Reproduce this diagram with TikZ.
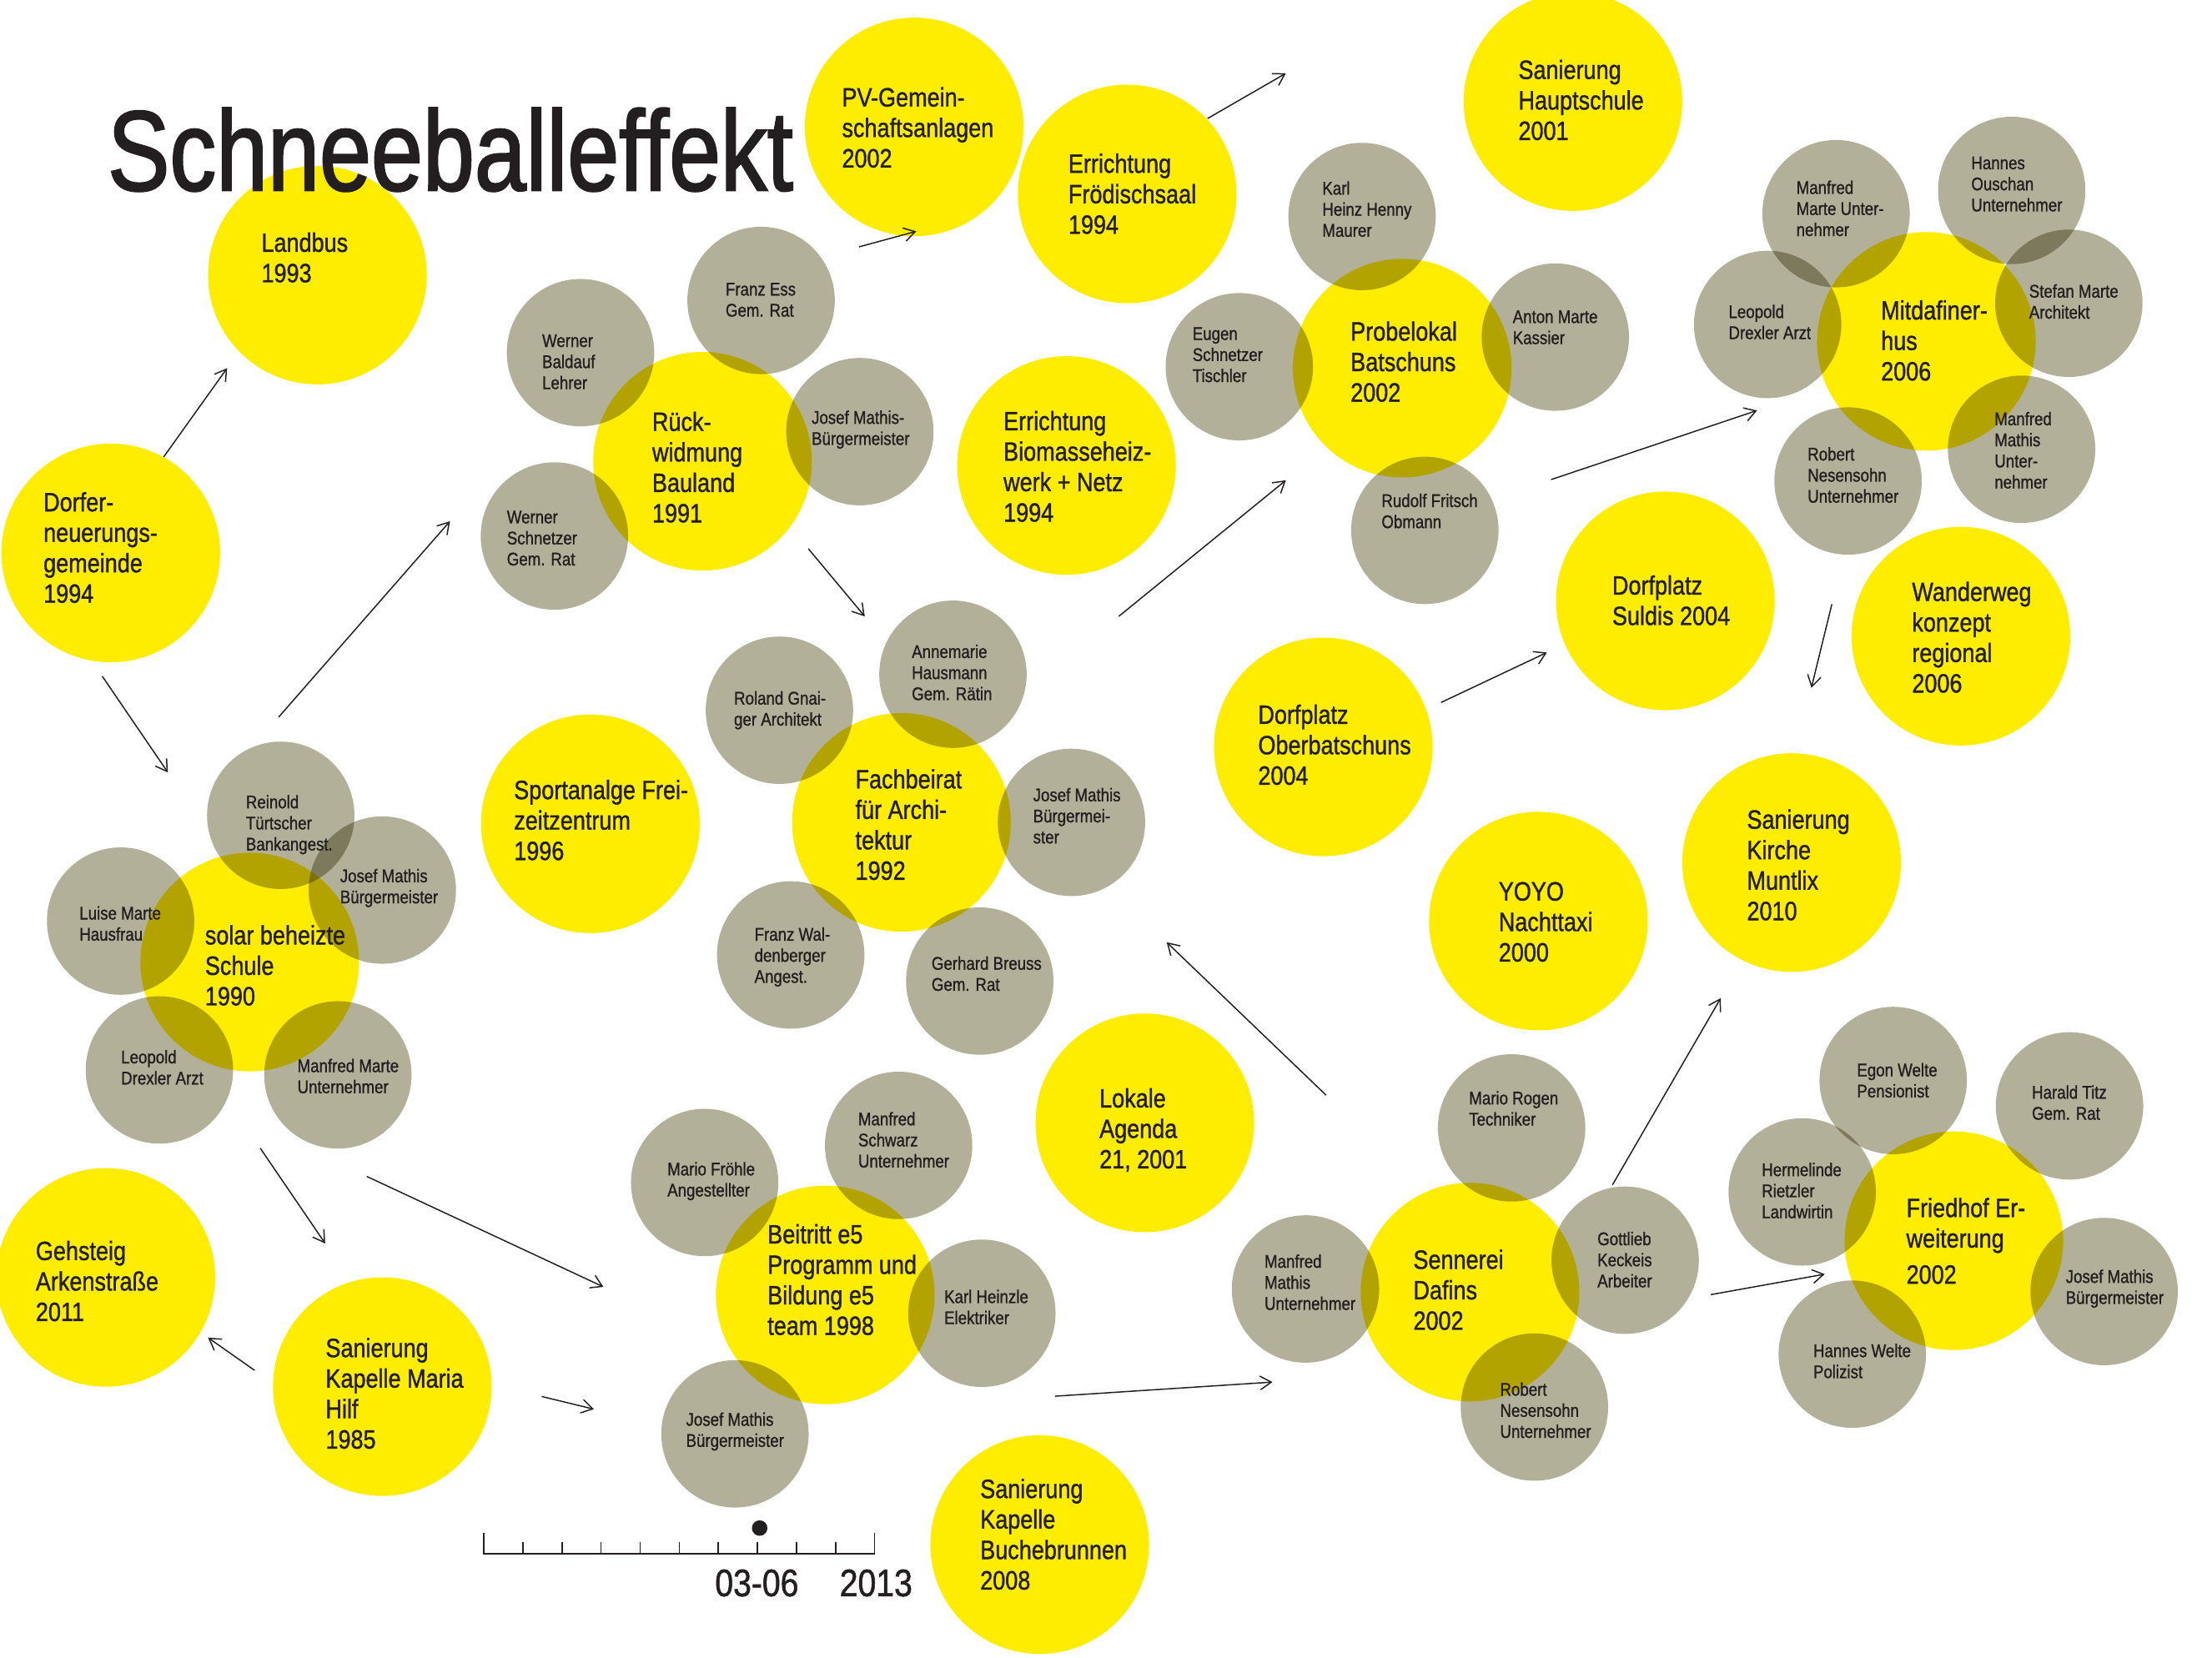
\documentclass[tikz,border=0pt]{standalone}
\usepackage{fontspec}
\setmainfont{Liberation Sans}[FakeStretch=0.85, FakeBold=1.1]
\newfontfamily\titlefont{Liberation Sans}[FakeStretch=0.815, FakeBold=1.6]
\usetikzlibrary{arrows.meta}
\definecolor{bubyellow}{HTML}{FFED00}
\definecolor{bubgray}{HTML}{B3B09A}
\definecolor{ink}{HTML}{231F20}

\begin{document}
\begin{tikzpicture}[x=0.02cm, y=-0.02cm,
    proj/.style={circle, fill=bubyellow, minimum size=3.1cm, inner sep=0pt},
    person/.style={circle, fill=bubgray, minimum size=2.09cm, inner sep=0pt},
    projtext/.style={anchor=north west, inner sep=0pt, yshift=7.66pt, align=left,
        text=ink, font=\fontsize{10.7}{12.3}\selectfont},
    persontext/.style={anchor=north west, inner sep=0pt, yshift=5.3pt, align=left,
        text=ink, font=\fontsize{7.4}{8.5}\selectfont},
    arr/.style={-{Straight Barb[length=4.5pt,width=5.5pt]}, line width=0.5pt, draw=ink}]
    \fill[white] (0,0) rectangle (1568,1175);
    \useasboundingbox (0,0) rectangle (1568,1175);

    \begin{scope}[blend mode=multiply]
        % Projekte
        \node[proj] (landbus) at (225,195) {};
        \node[proj] (dorfer) at (78.5,392) {};
        \node[proj] (pv) at (648,90) {};
        \node[proj] (froedisch) at (799,137.5) {};
        \node[proj] (hauptschule) at (1115,72) {};
        \node[proj] (rueckwidmung) at (498,327) {};
        \node[proj] (biomasse) at (756,330) {};
        \node[proj] (probelokal) at (994,261) {};
        \node[proj] (mitdafiner) at (1365.5,242) {};
        \node[proj] (suldis) at (1180.5,426) {};
        \node[proj] (wanderweg) at (1390,451) {};
        \node[proj] (oberbatschuns) at (938,529.5) {};
        \node[proj] (yoyo) at (1090.5,653) {};
        \node[proj] (muntlix) at (1270,611.5) {};
        \node[proj] (schule) at (177,682) {};
        \node[proj] (sportanlage) at (418.5,584) {};
        \node[proj] (fachbeirat) at (639,583) {};
        \node[proj] (agenda) at (811.5,796) {};
        \node[proj] (gehsteig) at (75,905.6) {};
        \node[proj] (mariahilf) at (271,983) {};
        \node[proj] (beitritt) at (585,918) {};
        \node[proj] (buchebrunnen) at (737,1095) {};
        \node[proj] (sennerei) at (1042,916) {};
        \node[proj] (friedhof) at (1385,879.6) {};
        % Personen
        \node[person] (baldauf) at (411.5,250) {};
        \node[person] (wschnetzer) at (393,380) {};
        \node[person] (franzess) at (539.5,213) {};
        \node[person] (mathisR) at (609.5,306) {};
        \node[person] (karlheinz) at (965.5,153.5) {};
        \node[person] (eugen) at (878.5,260) {};
        \node[person] (anton) at (1102.5,239) {};
        \node[person] (rudolf) at (1010,376) {};
        \node[person] (marteM) at (1301.5,151.5) {};
        \node[person] (ouschan) at (1426,135) {};
        \node[person] (drexlerM) at (1253,230) {};
        \node[person] (stefan) at (1466.5,215) {};
        \node[person] (nesensohnM) at (1310,341) {};
        \node[person] (mathisM) at (1433,318.5) {};
        \node[person] (reinold) at (199,578) {};
        \node[person] (mathisS) at (271,631) {};
        \node[person] (luise) at (85.5,653) {};
        \node[person] (drexlerS) at (113,758.5) {};
        \node[person] (marteS) at (239.5,762) {};
        \node[person] (roland) at (552.5,503.5) {};
        \node[person] (annemarie) at (675.5,478) {};
        \node[person] (mathisF) at (759.5,583) {};
        \node[person] (franzw) at (560.5,677) {};
        \node[person] (gerhard) at (694.5,695.5) {};
        \node[person] (froehle) at (499.5,838.3) {};
        \node[person] (schwarz) at (637,812) {};
        \node[person] (heinzle) at (696,931) {};
        \node[person] (mathisB) at (521,1016.5) {};
        \node[person] (rogen) at (1071.5,799.6) {};
        \node[person] (mathisD) at (925.4,913.8) {};
        \node[person] (gottlieb) at (1152,893.4) {};
        \node[person] (nesensohnD) at (1087.7,997.5) {};
        \node[person] (egon) at (1342,766) {};
        \node[person] (harald) at (1467,784) {};
        \node[person] (hermelinde) at (1277.5,845) {};
        \node[person] (mathisH) at (1491.5,915.6) {};
        \node[person] (hanneswelte) at (1313,960) {};
    \end{scope}

    % Titel
    \node[anchor=base west, inner sep=0pt, text=ink, font=\titlefont\fontsize{46}{50}\selectfont]
        (title) at (76,135) {Schneeballeffekt};

    % Texte Projekte
    \node[projtext] (landbus-t) at (185,178) {Landbus\\1993};
    \node[projtext] (dorfer-t) at (30.5,362) {Dorfer-\\neuerungs-\\gemeinde\\1994};
    \node[projtext] (pv-t) at (596.5,75) {PV-Gemein-\\schaftsanlagen\\2002};
    \node[projtext] (froedisch-t) at (757,122) {Errichtung\\Frödischsaal\\1994};
    \node[projtext] (hauptschule-t) at (1076,55.5) {Sanierung\\Hauptschule\\2001};
    \node[projtext] (rueckwidmung-t) at (462,305) {Rück-\\widmung\\Bauland\\1991};
    \node[projtext] (biomasse-t) at (711,304.5) {Errichtung\\Biomasseheiz-\\werk + Netz\\1994};
    \node[projtext] (probelokal-t) at (957,241) {Probelokal\\Batschuns\\2002};
    \node[projtext] (mitdafiner-t) at (1333,226) {Mitdafiner-\\hus\\2006};
    \node[projtext] (suldis-t) at (1142.5,421) {Dorfplatz\\Suldis 2004};
    \node[projtext] (wanderweg-t) at (1355,425.6) {Wanderweg\\konzept\\regional\\2006};
    \node[projtext] (oberbatschuns-t) at (891.5,512.6) {Dorfplatz\\Oberbatschuns\\2004};
    \node[projtext] (yoyo-t) at (1062,638.4) {YOYO\\Nachttaxi\\2000};
    \node[projtext] (muntlix-t) at (1238,587) {Sanierung\\Kirche\\Muntlix\\2010};
    \node[projtext] (schule-t) at (145,669) {solar beheizte\\Schule\\1990};
    \node[projtext] (sportanlage-t) at (364,566) {Sportanalge Frei-\\zeitzentrum\\1996};
    \node[projtext] (fachbeirat-t) at (606,558.4) {Fachbeirat\\für Archi-\\tektur\\1992};
    \node[projtext] (agenda-t) at (779,784.6) {Lokale\\Agenda\\21, 2001};
    \node[projtext] (gehsteig-t) at (25,892.8) {Gehsteig\\Arkenstraße\\2011};
    \node[projtext] (mariahilf-t) at (230.5,961.6) {Sanierung\\Kapelle Maria\\Hilf\\1985};
    \node[projtext] (beitritt-t) at (543.75,881) {Beitritt e5\\Programm und\\Bildung e5\\team 1998};
    \node[projtext] (buchebrunnen-t) at (694.5,1061.5) {Sanierung\\Kapelle\\Buchebrunnen\\2008};
    \node[projtext] (sennerei-t) at (1001.5,899) {Sennerei\\Dafins\\2002};
    \node[projtext] (friedhof-t) at (1351,862.3) {Friedhof Er-\\weiterung\\[2.3pt]2002};

    % Texte Personen
    \node[persontext] (baldauf-t) at (384,246) {Werner\\Baldauf\\Lehrer};
    \node[persontext] (wschnetzer-t) at (359,371) {Werner\\Schnetzer\\Gem. Rat};
    \node[persontext] (franzess-t) at (514,209.5) {Franz Ess\\Gem. Rat};
    \node[persontext] (mathisR-t) at (575,300) {Josef Mathis-\\Bürgermeister};
    \node[persontext] (karlheinz-t) at (937,137.5) {Karl\\Heinz Henny\\Maurer};
    \node[persontext] (eugen-t) at (845,241) {Eugen\\Schnetzer\\Tischler};
    \node[persontext] (anton-t) at (1072,229) {Anton Marte\\Kassier};
    \node[persontext] (rudolf-t) at (979,359) {Rudolf Fritsch\\Obmann};
    \node[persontext] (marteM-t) at (1273,137) {Manfred\\Marte Unter-\\nehmer};
    \node[persontext] (ouschan-t) at (1397,120) {Hannes\\Ouschan\\Unternehmer};
    \node[persontext] (drexlerM-t) at (1225,225) {Leopold\\Drexler Arzt};
    \node[persontext] (stefan-t) at (1438,210.5) {Stefan Marte\\Architekt};
    \node[persontext] (nesensohnM-t) at (1281,326) {Robert\\Nesensohn\\Unternehmer};
    \node[persontext] (mathisM-t) at (1413.5,301) {Manfred\\Mathis\\Unter-\\nehmer};
    \node[persontext] (reinold-t) at (174,572.6) {Reinold\\Türtscher\\Bankangest.};
    \node[persontext] (mathisS-t) at (240.75,625) {Josef Mathis\\Bürgermeister};
    \node[persontext] (luise-t) at (56,651.4) {Luise Marte\\Hausfrau};
    \node[persontext] (drexlerS-t) at (85.5,753.4) {Leopold\\Drexler Arzt};
    \node[persontext] (marteS-t) at (210.5,759.6) {Manfred Marte\\Unternehmer};
    \node[persontext] (roland-t) at (520,499) {Roland Gnai-\\ger Architekt};
    \node[persontext] (annemarie-t) at (646,466) {Annemarie\\Hausmann\\Gem. Rätin};
    \node[persontext] (mathisF-t) at (732,567.6) {Josef Mathis\\Bürgermei-\\ster};
    \node[persontext] (franzw-t) at (534.5,666.4) {Franz Wal-\\denberger\\Angest.};
    \node[persontext] (gerhard-t) at (660,687) {Gerhard Breuss\\Gem. Rat};
    \node[persontext] (froehle-t) at (472.75,832.8) {Mario Fröhle\\Angestellter};
    \node[persontext] (schwarz-t) at (608,797.3) {Manfred\\Schwarz\\Unternehmer};
    \node[persontext] (heinzle-t) at (669,923.3) {Karl Heinzle\\Elektriker};
    \node[persontext] (mathisB-t) at (486,1010.3) {Josef Mathis\\Bürgermeister};
    \node[persontext] (rogen-t) at (1041,782.5) {Mario Rogen\\Techniker};
    \node[persontext] (mathisD-t) at (896,898.3) {Manfred\\Mathis\\Unternehmer};
    \node[persontext] (gottlieb-t) at (1132,882.3) {Gottlieb\\Keckeis\\Arbeiter};
    \node[persontext] (nesensohnD-t) at (1063,989) {Robert\\Nesensohn\\Unternehmer};
    \node[persontext] (egon-t) at (1316,762.6) {Egon Welte\\Pensionist};
    \node[persontext] (harald-t) at (1440,778.4) {Harald Titz\\Gem. Rat};
    \node[persontext] (hermelinde-t) at (1248.5,833.3) {Hermelinde\\Rietzler\\Landwirtin};
    \node[persontext] (mathisH-t) at (1464,909) {Josef Mathis\\Bürgermeister};
    \node[persontext] (hanneswelte-t) at (1285,961.6) {Hannes Welte\\Polizist};

    % Pfeile
    \coordinate (dorfer-o1) at (116,324);        \coordinate (landbus-i) at (161,261);
    \coordinate (dorfer-o2) at (72.5,479.4);     \coordinate (schule-i) at (119,547.6);
    \coordinate (schule-o1) at (197.5,508.4);    \coordinate (rueck-i) at (319,369.5);
    \coordinate (rueck-o) at (573,389);          \coordinate (fach-i) at (613,437);
    \coordinate (rueck-o2) at (609,175);         \coordinate (pv-i) at (649.5,164);
    \coordinate (froedisch-o) at (856,84);       \coordinate (haupt-i) at (911.5,52);
    \coordinate (biomasse-o) at (793,437);       \coordinate (probe-i) at (911.5,340.5);
    \coordinate (probe-o) at (1099.5,340);       \coordinate (mitda-i) at (1245.5,291);
    \coordinate (oberb-o) at (1021.5,498);       \coordinate (suldis-i) at (1096.5,462.6);
    \coordinate (mitda-o) at (1298.5,428.4);     \coordinate (muntlix-i) at (1284,487.6);
    \coordinate (sennerei-o1) at (940,776.4);    \coordinate (gerhard-i) at (827,668);
    \coordinate (gottlieb-o) at (1143,840);      \coordinate (muntlix-i2) at (1219.75,707.6);
    \coordinate (gottlieb-o2) at (1212.75,917.8); \coordinate (friedhof-i) at (1293.5,903.3);
    \coordinate (heinzle-o) at (748,989.8);      \coordinate (sennerei-i) at (902,979.8);
    \coordinate (mariahilf-o1) at (384,990);     \coordinate (mathisB-i) at (421,999);
    \coordinate (mariahilf-o2) at (180.5,971.5); \coordinate (gehsteig-i) at (147.5,948.3);
    \coordinate (schule-o2) at (184.5,814);      \coordinate (mariahilf-i) at (230.5,881.5);
    \coordinate (schule-o3) at (260,834);        \coordinate (beitritt-i) at (427.75,912.3);

    \draw[arr] (dorfer-o1) -- (landbus-i);
    \draw[arr] (dorfer-o2) -- (schule-i);
    \draw[arr] (schule-o1) -- (rueck-i);
    \draw[arr] (rueck-o) -- (fach-i);
    \draw[arr] (rueck-o2) -- (pv-i);
    \draw[arr] (froedisch-o) -- (haupt-i);
    \draw[arr] (biomasse-o) -- (probe-i);
    \draw[arr] (probe-o) -- (mitda-i);
    \draw[arr] (oberb-o) -- (suldis-i);
    \draw[arr] (mitda-o) -- (muntlix-i);
    \draw[arr] (sennerei-o1) -- (gerhard-i);
    \draw[arr] (gottlieb-o) -- (muntlix-i2);
    \draw[arr] (gottlieb-o2) -- (friedhof-i);
    \draw[arr] (heinzle-o) -- (sennerei-i);
    \draw[arr] (mariahilf-o1) -- (mathisB-i);
    \draw[arr] (mariahilf-o2) -- (gehsteig-i);
    \draw[arr] (schule-o2) -- (mariahilf-i);
    \draw[arr] (schule-o3) -- (beitritt-i);

    % Zeitleiste
    \draw[line width=0.5pt, draw=ink] (343,1087) -- (343,1101.5) -- (620,1101.5) -- (620,1087);
    \foreach \k in {1,...,9}
        \draw[line width=0.5pt, draw=ink] (343+27.7*\k,1093.5) -- (343+27.7*\k,1101.5);
    \fill[ink] (538.5,1083.3) circle[radius=5.5];
    \node[anchor=base, inner sep=0pt, text=ink, font=\fontsize{15.5}{17}\selectfont]
        (datum) at (536.5,1131.6) {03-06};
    \node[anchor=base, inner sep=0pt, text=ink, font=\fontsize{15.5}{17}\selectfont]
        (jahr) at (621,1131.6) {2013};
\end{tikzpicture}
\end{document}
